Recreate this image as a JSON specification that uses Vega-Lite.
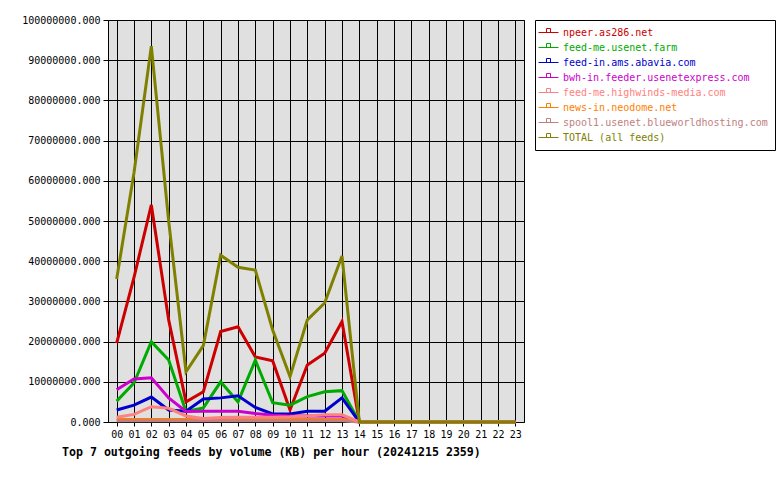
{
  "$schema": "https://vega.github.io/schema/vega-lite/v6.json",
  "width": 416,
  "height": 402,
  "autosize": {"type": "none"},
  "padding": {"left": 108, "top": 20, "right": 256, "bottom": 58},
  "background": "white",
  "config": {
    "font": "DejaVu Sans Mono",
    "view": {"fill": "#e0e0e0", "stroke": "black", "strokeWidth": 1}
  },
  "title": {
    "text": "Top 7 outgoing feeds by volume (KB) per hour (20241215 2359)",
    "orient": "bottom",
    "anchor": "start",
    "frame": "group",
    "dx": -46,
    "offset": 8,
    "font": "DejaVu Sans Mono",
    "fontSize": 11.6,
    "fontWeight": "bold",
    "color": "black"
  },
  "data": {
    "values": [
      {"s": "npeer.as286.net", "h": "00", "v": 19600000},
      {"s": "npeer.as286.net", "h": "01", "v": 36000000},
      {"s": "npeer.as286.net", "h": "02", "v": 54000000},
      {"s": "npeer.as286.net", "h": "03", "v": 25400000},
      {"s": "npeer.as286.net", "h": "04", "v": 5000000},
      {"s": "npeer.as286.net", "h": "05", "v": 7500000},
      {"s": "npeer.as286.net", "h": "06", "v": 22500000},
      {"s": "npeer.as286.net", "h": "07", "v": 23700000},
      {"s": "npeer.as286.net", "h": "08", "v": 16200000},
      {"s": "npeer.as286.net", "h": "09", "v": 15200000},
      {"s": "npeer.as286.net", "h": "10", "v": 3000000},
      {"s": "npeer.as286.net", "h": "11", "v": 14200000},
      {"s": "npeer.as286.net", "h": "12", "v": 17100000},
      {"s": "npeer.as286.net", "h": "13", "v": 25000000},
      {"s": "npeer.as286.net", "h": "14", "v": 0},
      {"s": "npeer.as286.net", "h": "15", "v": 0},
      {"s": "npeer.as286.net", "h": "16", "v": 0},
      {"s": "npeer.as286.net", "h": "17", "v": 0},
      {"s": "npeer.as286.net", "h": "18", "v": 0},
      {"s": "npeer.as286.net", "h": "19", "v": 0},
      {"s": "npeer.as286.net", "h": "20", "v": 0},
      {"s": "npeer.as286.net", "h": "21", "v": 0},
      {"s": "npeer.as286.net", "h": "22", "v": 0},
      {"s": "npeer.as286.net", "h": "23", "v": 0},
      {"s": "feed-me.usenet.farm", "h": "00", "v": 5200000},
      {"s": "feed-me.usenet.farm", "h": "01", "v": 9700000},
      {"s": "feed-me.usenet.farm", "h": "02", "v": 20000000},
      {"s": "feed-me.usenet.farm", "h": "03", "v": 15400000},
      {"s": "feed-me.usenet.farm", "h": "04", "v": 2600000},
      {"s": "feed-me.usenet.farm", "h": "05", "v": 3500000},
      {"s": "feed-me.usenet.farm", "h": "06", "v": 10000000},
      {"s": "feed-me.usenet.farm", "h": "07", "v": 5000000},
      {"s": "feed-me.usenet.farm", "h": "08", "v": 15400000},
      {"s": "feed-me.usenet.farm", "h": "09", "v": 4800000},
      {"s": "feed-me.usenet.farm", "h": "10", "v": 4200000},
      {"s": "feed-me.usenet.farm", "h": "11", "v": 6300000},
      {"s": "feed-me.usenet.farm", "h": "12", "v": 7500000},
      {"s": "feed-me.usenet.farm", "h": "13", "v": 7800000},
      {"s": "feed-me.usenet.farm", "h": "14", "v": 0},
      {"s": "feed-me.usenet.farm", "h": "15", "v": 0},
      {"s": "feed-me.usenet.farm", "h": "16", "v": 0},
      {"s": "feed-me.usenet.farm", "h": "17", "v": 0},
      {"s": "feed-me.usenet.farm", "h": "18", "v": 0},
      {"s": "feed-me.usenet.farm", "h": "19", "v": 0},
      {"s": "feed-me.usenet.farm", "h": "20", "v": 0},
      {"s": "feed-me.usenet.farm", "h": "21", "v": 0},
      {"s": "feed-me.usenet.farm", "h": "22", "v": 0},
      {"s": "feed-me.usenet.farm", "h": "23", "v": 0},
      {"s": "feed-in.ams.abavia.com", "h": "00", "v": 3000000},
      {"s": "feed-in.ams.abavia.com", "h": "01", "v": 4200000},
      {"s": "feed-in.ams.abavia.com", "h": "02", "v": 6200000},
      {"s": "feed-in.ams.abavia.com", "h": "03", "v": 3000000},
      {"s": "feed-in.ams.abavia.com", "h": "04", "v": 2700000},
      {"s": "feed-in.ams.abavia.com", "h": "05", "v": 5700000},
      {"s": "feed-in.ams.abavia.com", "h": "06", "v": 6000000},
      {"s": "feed-in.ams.abavia.com", "h": "07", "v": 6500000},
      {"s": "feed-in.ams.abavia.com", "h": "08", "v": 3600000},
      {"s": "feed-in.ams.abavia.com", "h": "09", "v": 2000000},
      {"s": "feed-in.ams.abavia.com", "h": "10", "v": 2000000},
      {"s": "feed-in.ams.abavia.com", "h": "11", "v": 2700000},
      {"s": "feed-in.ams.abavia.com", "h": "12", "v": 2700000},
      {"s": "feed-in.ams.abavia.com", "h": "13", "v": 6000000},
      {"s": "feed-in.ams.abavia.com", "h": "14", "v": 0},
      {"s": "feed-in.ams.abavia.com", "h": "15", "v": 0},
      {"s": "feed-in.ams.abavia.com", "h": "16", "v": 0},
      {"s": "feed-in.ams.abavia.com", "h": "17", "v": 0},
      {"s": "feed-in.ams.abavia.com", "h": "18", "v": 0},
      {"s": "feed-in.ams.abavia.com", "h": "19", "v": 0},
      {"s": "feed-in.ams.abavia.com", "h": "20", "v": 0},
      {"s": "feed-in.ams.abavia.com", "h": "21", "v": 0},
      {"s": "feed-in.ams.abavia.com", "h": "22", "v": 0},
      {"s": "feed-in.ams.abavia.com", "h": "23", "v": 0},
      {"s": "bwh-in.feeder.usenetexpress.com", "h": "00", "v": 8000000},
      {"s": "bwh-in.feeder.usenetexpress.com", "h": "01", "v": 10700000},
      {"s": "bwh-in.feeder.usenetexpress.com", "h": "02", "v": 11000000},
      {"s": "bwh-in.feeder.usenetexpress.com", "h": "03", "v": 6000000},
      {"s": "bwh-in.feeder.usenetexpress.com", "h": "04", "v": 2600000},
      {"s": "bwh-in.feeder.usenetexpress.com", "h": "05", "v": 2700000},
      {"s": "bwh-in.feeder.usenetexpress.com", "h": "06", "v": 2700000},
      {"s": "bwh-in.feeder.usenetexpress.com", "h": "07", "v": 2700000},
      {"s": "bwh-in.feeder.usenetexpress.com", "h": "08", "v": 2100000},
      {"s": "bwh-in.feeder.usenetexpress.com", "h": "09", "v": 1700000},
      {"s": "bwh-in.feeder.usenetexpress.com", "h": "10", "v": 1500000},
      {"s": "bwh-in.feeder.usenetexpress.com", "h": "11", "v": 1500000},
      {"s": "bwh-in.feeder.usenetexpress.com", "h": "12", "v": 1500000},
      {"s": "bwh-in.feeder.usenetexpress.com", "h": "13", "v": 1500000},
      {"s": "bwh-in.feeder.usenetexpress.com", "h": "14", "v": 0},
      {"s": "bwh-in.feeder.usenetexpress.com", "h": "15", "v": 0},
      {"s": "bwh-in.feeder.usenetexpress.com", "h": "16", "v": 0},
      {"s": "bwh-in.feeder.usenetexpress.com", "h": "17", "v": 0},
      {"s": "bwh-in.feeder.usenetexpress.com", "h": "18", "v": 0},
      {"s": "bwh-in.feeder.usenetexpress.com", "h": "19", "v": 0},
      {"s": "bwh-in.feeder.usenetexpress.com", "h": "20", "v": 0},
      {"s": "bwh-in.feeder.usenetexpress.com", "h": "21", "v": 0},
      {"s": "bwh-in.feeder.usenetexpress.com", "h": "22", "v": 0},
      {"s": "bwh-in.feeder.usenetexpress.com", "h": "23", "v": 0},
      {"s": "news-in.neodome.net", "h": "00", "v": 600000},
      {"s": "news-in.neodome.net", "h": "01", "v": 600000},
      {"s": "news-in.neodome.net", "h": "02", "v": 600000},
      {"s": "news-in.neodome.net", "h": "03", "v": 600000},
      {"s": "news-in.neodome.net", "h": "04", "v": 600000},
      {"s": "news-in.neodome.net", "h": "05", "v": 600000},
      {"s": "news-in.neodome.net", "h": "06", "v": 600000},
      {"s": "news-in.neodome.net", "h": "07", "v": 600000},
      {"s": "news-in.neodome.net", "h": "08", "v": 600000},
      {"s": "news-in.neodome.net", "h": "09", "v": 600000},
      {"s": "news-in.neodome.net", "h": "10", "v": 600000},
      {"s": "news-in.neodome.net", "h": "11", "v": 600000},
      {"s": "news-in.neodome.net", "h": "12", "v": 600000},
      {"s": "news-in.neodome.net", "h": "13", "v": 600000},
      {"s": "news-in.neodome.net", "h": "14", "v": 0},
      {"s": "news-in.neodome.net", "h": "15", "v": 0},
      {"s": "news-in.neodome.net", "h": "16", "v": 0},
      {"s": "news-in.neodome.net", "h": "17", "v": 0},
      {"s": "news-in.neodome.net", "h": "18", "v": 0},
      {"s": "news-in.neodome.net", "h": "19", "v": 0},
      {"s": "news-in.neodome.net", "h": "20", "v": 0},
      {"s": "news-in.neodome.net", "h": "21", "v": 0},
      {"s": "news-in.neodome.net", "h": "22", "v": 0},
      {"s": "news-in.neodome.net", "h": "23", "v": 0},
      {"s": "spool1.usenet.blueworldhosting.com", "h": "00", "v": 300000},
      {"s": "spool1.usenet.blueworldhosting.com", "h": "01", "v": 300000},
      {"s": "spool1.usenet.blueworldhosting.com", "h": "02", "v": 300000},
      {"s": "spool1.usenet.blueworldhosting.com", "h": "03", "v": 300000},
      {"s": "spool1.usenet.blueworldhosting.com", "h": "04", "v": 300000},
      {"s": "spool1.usenet.blueworldhosting.com", "h": "05", "v": 300000},
      {"s": "spool1.usenet.blueworldhosting.com", "h": "06", "v": 300000},
      {"s": "spool1.usenet.blueworldhosting.com", "h": "07", "v": 300000},
      {"s": "spool1.usenet.blueworldhosting.com", "h": "08", "v": 300000},
      {"s": "spool1.usenet.blueworldhosting.com", "h": "09", "v": 300000},
      {"s": "spool1.usenet.blueworldhosting.com", "h": "10", "v": 300000},
      {"s": "spool1.usenet.blueworldhosting.com", "h": "11", "v": 300000},
      {"s": "spool1.usenet.blueworldhosting.com", "h": "12", "v": 300000},
      {"s": "spool1.usenet.blueworldhosting.com", "h": "13", "v": 300000},
      {"s": "spool1.usenet.blueworldhosting.com", "h": "14", "v": 0},
      {"s": "spool1.usenet.blueworldhosting.com", "h": "15", "v": 0},
      {"s": "spool1.usenet.blueworldhosting.com", "h": "16", "v": 0},
      {"s": "spool1.usenet.blueworldhosting.com", "h": "17", "v": 0},
      {"s": "spool1.usenet.blueworldhosting.com", "h": "18", "v": 0},
      {"s": "spool1.usenet.blueworldhosting.com", "h": "19", "v": 0},
      {"s": "spool1.usenet.blueworldhosting.com", "h": "20", "v": 0},
      {"s": "spool1.usenet.blueworldhosting.com", "h": "21", "v": 0},
      {"s": "spool1.usenet.blueworldhosting.com", "h": "22", "v": 0},
      {"s": "spool1.usenet.blueworldhosting.com", "h": "23", "v": 0},
      {"s": "feed-me.highwinds-media.com", "h": "00", "v": 1200000},
      {"s": "feed-me.highwinds-media.com", "h": "01", "v": 1900000},
      {"s": "feed-me.highwinds-media.com", "h": "02", "v": 3800000},
      {"s": "feed-me.highwinds-media.com", "h": "03", "v": 3400000},
      {"s": "feed-me.highwinds-media.com", "h": "04", "v": 1500000},
      {"s": "feed-me.highwinds-media.com", "h": "05", "v": 900000},
      {"s": "feed-me.highwinds-media.com", "h": "06", "v": 1100000},
      {"s": "feed-me.highwinds-media.com", "h": "07", "v": 1200000},
      {"s": "feed-me.highwinds-media.com", "h": "08", "v": 1200000},
      {"s": "feed-me.highwinds-media.com", "h": "09", "v": 1200000},
      {"s": "feed-me.highwinds-media.com", "h": "10", "v": 1300000},
      {"s": "feed-me.highwinds-media.com", "h": "11", "v": 1500000},
      {"s": "feed-me.highwinds-media.com", "h": "12", "v": 1800000},
      {"s": "feed-me.highwinds-media.com", "h": "13", "v": 1800000},
      {"s": "feed-me.highwinds-media.com", "h": "14", "v": 0},
      {"s": "feed-me.highwinds-media.com", "h": "15", "v": 0},
      {"s": "feed-me.highwinds-media.com", "h": "16", "v": 0},
      {"s": "feed-me.highwinds-media.com", "h": "17", "v": 0},
      {"s": "feed-me.highwinds-media.com", "h": "18", "v": 0},
      {"s": "feed-me.highwinds-media.com", "h": "19", "v": 0},
      {"s": "feed-me.highwinds-media.com", "h": "20", "v": 0},
      {"s": "feed-me.highwinds-media.com", "h": "21", "v": 0},
      {"s": "feed-me.highwinds-media.com", "h": "22", "v": 0},
      {"s": "feed-me.highwinds-media.com", "h": "23", "v": 0},
      {"s": "TOTAL (all feeds)", "h": "00", "v": 35600000},
      {"s": "TOTAL (all feeds)", "h": "01", "v": 62000000},
      {"s": "TOTAL (all feeds)", "h": "02", "v": 93500000},
      {"s": "TOTAL (all feeds)", "h": "03", "v": 50000000},
      {"s": "TOTAL (all feeds)", "h": "04", "v": 12500000},
      {"s": "TOTAL (all feeds)", "h": "05", "v": 19000000},
      {"s": "TOTAL (all feeds)", "h": "06", "v": 41500000},
      {"s": "TOTAL (all feeds)", "h": "07", "v": 38500000},
      {"s": "TOTAL (all feeds)", "h": "08", "v": 37800000},
      {"s": "TOTAL (all feeds)", "h": "09", "v": 22900000},
      {"s": "TOTAL (all feeds)", "h": "10", "v": 11300000},
      {"s": "TOTAL (all feeds)", "h": "11", "v": 25400000},
      {"s": "TOTAL (all feeds)", "h": "12", "v": 29600000},
      {"s": "TOTAL (all feeds)", "h": "13", "v": 41300000},
      {"s": "TOTAL (all feeds)", "h": "14", "v": 0},
      {"s": "TOTAL (all feeds)", "h": "15", "v": 0},
      {"s": "TOTAL (all feeds)", "h": "16", "v": 0},
      {"s": "TOTAL (all feeds)", "h": "17", "v": 0},
      {"s": "TOTAL (all feeds)", "h": "18", "v": 0},
      {"s": "TOTAL (all feeds)", "h": "19", "v": 0},
      {"s": "TOTAL (all feeds)", "h": "20", "v": 0},
      {"s": "TOTAL (all feeds)", "h": "21", "v": 0},
      {"s": "TOTAL (all feeds)", "h": "22", "v": 0},
      {"s": "TOTAL (all feeds)", "h": "23", "v": 0}
    ]
  },
  "mark": {"type": "line", "strokeWidth": 3, "strokeJoin": "miter"},
  "encoding": {
    "x": {
      "field": "h",
      "type": "ordinal",
      "scale": {"type": "point", "padding": 0.5},
      "axis": {
        "title": null,
        "labelAngle": 0,
        "labelFont": "DejaVu Sans Mono",
        "labelFontSize": 10,
        "labelColor": "black",
        "labelPadding": 3,
        "tickColor": "black",
        "tickSize": 4,
        "domain": false,
        "grid": true,
        "gridColor": "black",
        "gridOpacity": 1,
        "gridWidth": 1
      }
    },
    "y": {
      "field": "v",
      "type": "quantitative",
      "scale": {"domain": [0, 100000000], "nice": false},
      "axis": {
        "title": null,
        "values": [0, 10000000, 20000000, 30000000, 40000000, 50000000, 60000000, 70000000, 80000000, 90000000, 100000000],
        "format": ".3f",
        "labelFont": "DejaVu Sans Mono",
        "labelFontSize": 10,
        "labelColor": "black",
        "labelPadding": 3,
        "tickColor": "black",
        "tickSize": 5,
        "domain": false,
        "grid": true,
        "gridColor": "black",
        "gridOpacity": 1,
        "gridWidth": 1
      }
    },
    "color": {
      "field": "s",
      "type": "nominal",
      "scale": {
        "domain": ["npeer.as286.net", "feed-me.usenet.farm", "feed-in.ams.abavia.com", "bwh-in.feeder.usenetexpress.com", "feed-me.highwinds-media.com", "news-in.neodome.net", "spool1.usenet.blueworldhosting.com", "TOTAL (all feeds)"],
        "range": ["#cc0000", "#00aa00", "#0000cc", "#cc00cc", "#ff8080", "#ff8000", "#c08080", "#808000"]
      },
      "legend": {
        "title": null,
        "orient": "none",
        "legendX": 427,
        "legendY": 0,
        "direction": "vertical",
        "padding": 7,
        "strokeColor": "black",
        "fillColor": "white",
        "symbolType": "M-1.8,0H2.2M-0.2,0V-0.8H0.6V0",
        "symbolSize": 100,
        "symbolStrokeWidth": 1,
        "symbolFillColor": "transparent",
        "labelFont": "DejaVu Sans Mono",
        "labelFontSize": 10,
        "labelOffset": 10,
        "labelLimit": 400,
        "rowPadding": 3,
        "encode": {
          "labels": {"update": {"fill": {"scale": "color", "field": "value"}}}
        }
      }
    }
  }
}
